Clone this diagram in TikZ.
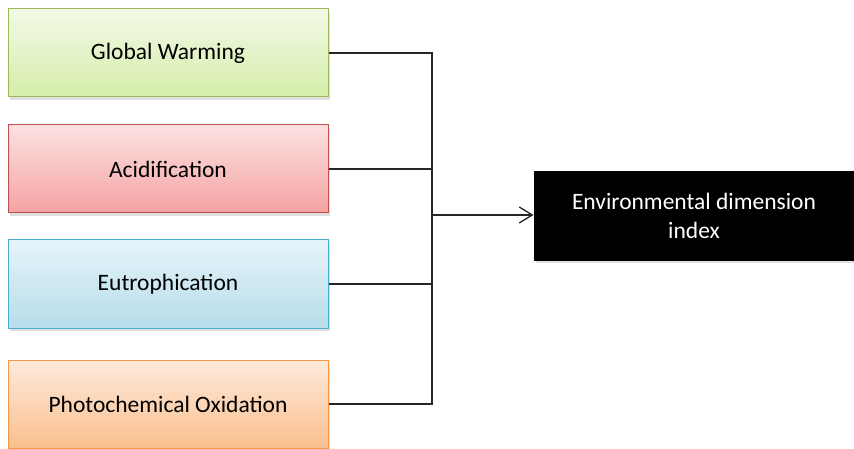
\documentclass[tikz,border=0pt]{standalone}
\usepackage{fontspec}
\setmainfont{Carlito}
\usetikzlibrary{shadows,arrows.meta}
\definecolor{gwline}{HTML}{9BBB59}
\definecolor{gwtop}{HTML}{F2F9E6}
\definecolor{gwbot}{HTML}{D5EDAA}
\definecolor{acline}{HTML}{C0504D}
\definecolor{actop}{HTML}{FCE0E0}
\definecolor{acbot}{HTML}{F5A3A3}
\definecolor{euline}{HTML}{4BACC6}
\definecolor{eutop}{HTML}{E6F4FA}
\definecolor{eubot}{HTML}{B5DDEA}
\definecolor{pcline}{HTML}{F79646}
\definecolor{pctop}{HTML}{FDEADB}
\definecolor{pcbot}{HTML}{FABF8F}
\tikzset{
  factor/.style={draw, line width=1pt, minimum width=320pt, minimum height=88pt,
    inner sep=0pt, font=\fontsize{23.5}{28}\selectfont,
    drop shadow={shadow xshift=2pt, shadow yshift=-3pt, opacity=0.25}},
  link/.style={line width=1.3pt, draw=black!85}
}
\begin{document}
\begin{tikzpicture}[x=1pt,y=-1pt]
\useasboundingbox (0,0) rectangle (854,449);
\node[factor, draw=gwline, top color=gwtop, bottom color=gwbot] (gw) at (168,53) {Global Warming};
\node[factor, draw=acline, top color=actop, bottom color=acbot] (ac) at (168,169) {Acidification};
\node[factor, draw=euline, top color=eutop, bottom color=eubot] (eu) at (168,284) {Eutrophication};
\node[factor, draw=pcline, top color=pctop, bottom color=pcbot] (pc) at (168,404) {Photochemical\ Oxidation};
\node[factor, draw=black, fill=black, text=white, align=center, font=\fontsize{23.5}{29}\selectfont] (idx) at (694,216) {Environmental dimension\\index};
\coordinate (bus) at (432,215);
% feeders into the bus
\draw[link] (gw.east) -| (bus);
\draw[link] (ac.east) -| (bus);
\draw[link] (eu.east) -| (bus);
\draw[link] (pc.east) -| (bus);
\draw[link, -{Straight Barb[length=13pt,width=16pt]}] (bus) -- (bus -| idx.west);
\end{tikzpicture}
\end{document}
